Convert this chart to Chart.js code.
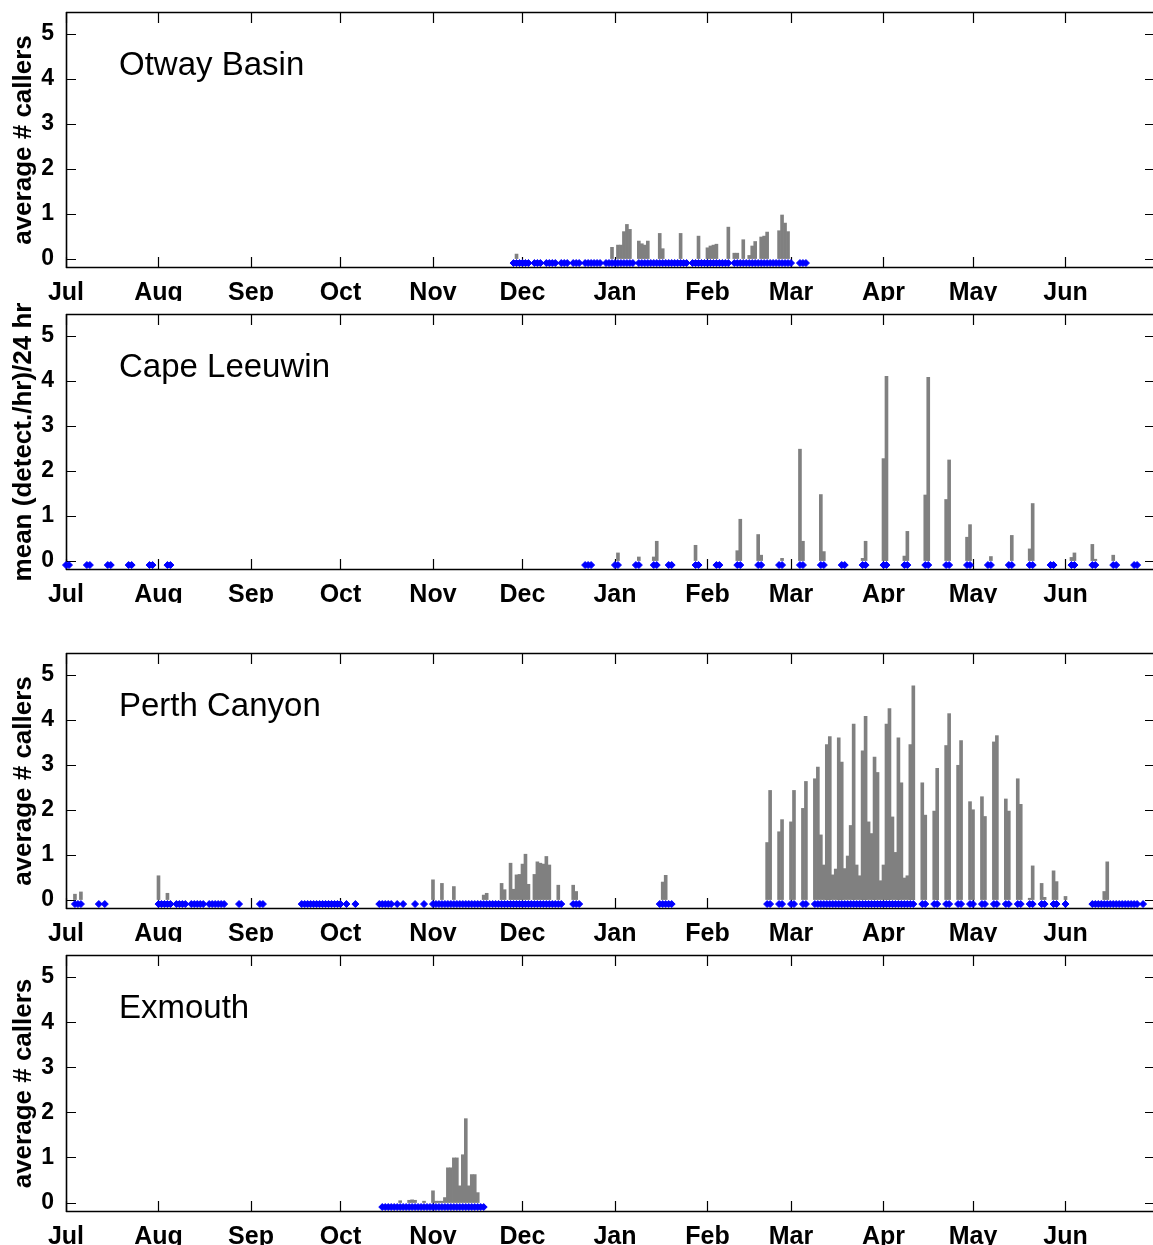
<!DOCTYPE html>
<html>
<head>
<meta charset="utf-8">
<title>Chorus - 4 sites</title>
<script src="https://cdn.jsdelivr.net/npm/chart.js@4/dist/chart.umd.min.js"></script>
<style>
    html, body { margin: 0; padding: 0; overflow: hidden; background: #fff; }
    #figure { position: relative; width: 1153px; height: 1245px; overflow: hidden; }
    #figure canvas { position: absolute; left: 0; }
</style>
</head>
<body>
<div id="figure">
    <canvas id="panneau-otway" width="1160" height="301"></canvas>
    <canvas id="panneau-leeuwin" width="1160" height="301"></canvas>
    <canvas id="panneau-perth" width="1160" height="301"></canvas>
    <canvas id="panneau-exmouth" width="1160" height="302"></canvas>
</div>
<script>
// Axe du temps : jours comptés depuis le 1er juillet
const moisJours = [0, 31, 62, 92, 123, 153, 184, 215, 243, 274, 304, 335];
const moisNoms = ['Jul', 'Aug', 'Sep', 'Oct', 'Nov', 'Dec', 'Jan', 'Feb', 'Mar', 'Apr', 'May', 'Jun'];
const graduationsY = [0, 1, 2, 3, 4, 5];
const niveauEffort = -0.1; // jours avec enregistrement (losanges bleus)

// Otway Basin
const otwayJours = [151, 183, 185, 186, 187, 188, 189, 192, 193, 194, 195, 199, 200, 206, 212,
    215, 216, 217, 218, 222, 224, 225, 227, 229, 230, 231, 233, 234, 235, 239, 240, 241, 242];
const otwayValeurs = [0.10, 0.25, 0.30, 0.30, 0.60, 0.76, 0.65, 0.39, 0.33, 0.30, 0.39, 0.56, 0.22, 0.56, 0.50,
    0.24, 0.28, 0.30, 0.32, 0.70, 0.12, 0.12, 0.42, 0.07, 0.28, 0.38, 0.48, 0.50, 0.59, 0.62, 0.97, 0.79, 0.60];
const otwayEffort = [[150, 155], [157, 159], [161, 164], [166, 168], [170, 172], [174, 179], [181, 190],
    [192, 208], [210, 222], [224, 243], [246, 248]];

// Cape Leeuwin
const leeuwinJours = [185, 192, 197, 198, 211, 225, 226, 232, 233, 240, 246, 247, 253, 254, 267, 268, 274, 275,
    281, 282, 288, 289, 295, 296, 302, 303, 310, 317, 323, 324, 337, 338, 344, 345, 351];
const leeuwinValeurs = [0.17, 0.08, 0.08, 0.43, 0.34, 0.22, 0.92, 0.58, 0.12, 0.05, 2.48, 0.43, 1.47, 0.20, 0.05, 0.43, 2.27, 4.10,
    0.10, 0.65, 1.46, 4.08, 1.36, 2.24, 0.52, 0.80, 0.09, 0.56, 0.26, 1.27, 0.07, 0.17, 0.36, 0.03, 0.12];
const leeuwinEffort = [[0, 1], [7, 8], [14, 15], [21, 22], [28, 29], [34, 35], [174, 176], [184, 185], [191, 192],
    [197, 198], [202, 203], [211, 212], [218, 219], [225, 226], [232, 233], [239, 240], [246, 247], [253, 254],
    [260, 261], [267, 268], [274, 275], [281, 282], [288, 289], [295, 296], [302, 303], [309, 310], [316, 317],
    [323, 324], [330, 331], [337, 338], [344, 345], [351, 352], [358, 359]];

// Perth Canyon
const perthJours = [3, 5, 31, 34, 123, 126, 130, 140, 141, 146, 147, 149, 150, 151, 152, 153, 154, 155,
    157, 158, 159, 160, 161, 162, 165, 170, 171, 200, 201, 235, 236, 239, 240, 243, 244, 247, 248,
    251, 252, 253, 254, 255, 256, 257, 258, 259, 260, 261, 262, 263, 264, 265, 266, 267, 268, 269, 270,
    271, 272, 273, 274, 275, 276, 277, 278, 279, 280, 281, 282, 283, 284, 287, 288, 291, 292, 295, 296,
    299, 300, 303, 304, 307, 308, 311, 312, 315, 316, 319, 320, 323, 324, 327, 328, 331, 332, 335, 348, 349];
const perthValeurs = [0.12, 0.17, 0.53, 0.14, 0.44, 0.36, 0.29, 0.10, 0.14, 0.36, 0.22, 0.81, 0.23, 0.55, 0.56, 0.79, 1.01, 0.34,
    0.56, 0.84, 0.81, 0.79, 0.96, 0.77, 0.32, 0.32, 0.18, 0.39, 0.54, 1.27, 2.43, 1.51, 1.78, 1.73, 2.43, 2.03, 2.63,
    2.69, 2.95, 1.44, 0.77, 3.45, 3.63, 0.55, 0.68, 3.60, 3.06, 0.69, 0.97, 1.65, 3.91, 0.77, 0.53, 3.31, 4.08, 1.73, 1.47,
    3.17, 2.83, 0.42, 0.77, 3.91, 4.25, 1.84, 1.05, 3.60, 2.60, 0.48, 0.53, 3.45, 4.76, 2.60, 1.88, 1.97, 2.92, 3.43, 4.14,
    2.99, 3.54, 2.18, 2.00, 2.29, 1.85, 3.51, 3.65, 2.24, 1.97, 2.69, 2.12, 0.03, 0.75, 0.36, 0.05, 0.64, 0.40, 0.07, 0.18, 0.84];
const perthEffort = [[3, 5], [11, 11], [13, 13], [31, 35], [37, 40], [42, 46], [48, 53], [58, 58], [65, 66],
    [79, 92], [94, 94], [97, 97], [105, 109], [111, 111], [113, 113], [117, 117], [120, 120], [123, 166],
    [170, 172], [199, 203], [235, 236], [239, 240], [243, 244], [247, 248], [251, 284], [287, 288], [291, 292],
    [295, 296], [299, 300], [303, 304], [307, 308], [311, 312], [315, 316], [319, 320], [323, 324], [327, 328],
    [331, 332], [335, 335], [344, 359], [361, 361]];

// Exmouth
const exmouthJours = [112, 115, 116, 117, 120, 123, 124, 125, 126, 127, 128, 129, 130, 131, 132, 133, 134, 135, 136, 137, 138];
const exmouthValeurs = [0.04, 0.05, 0.06, 0.05, 0.03, 0.26, 0.03, 0.03, 0.03, 0.11, 0.77, 0.77, 0.99, 0.99, 0.37, 1.06, 1.86, 0.37, 0.62, 0.62, 0.22];
const exmouthEffort = [[106, 140]];

Chart.defaults.font.family = '"Liberation Sans", Arial, sans-serif';
Chart.defaults.color = '#000';

// Cadre, graduations internes et nom du site
const cadrePlugin = {
    id: 'cadre',
    beforeDatasetsDraw(chart) {
        const { ctx, chartArea: a, scales: { x, y } } = chart;
        ctx.save();
        ctx.strokeStyle = '#000';
        ctx.lineWidth = 1.6;
        ctx.beginPath();
        ctx.moveTo(a.left, a.top + 0.5);
        ctx.lineTo(a.right, a.top + 0.5);
        ctx.moveTo(a.left + 0.5, a.top);
        ctx.lineTo(a.left + 0.5, a.bottom);
        ctx.moveTo(a.left, a.bottom - 0.5);
        ctx.lineTo(a.right, a.bottom - 0.5);
        ctx.stroke();
        ctx.lineWidth = 1.2;
        ctx.beginPath();
        x.ticks.forEach(t => {
            const px = Math.round(x.getPixelForValue(t.value)) + 0.5;
            ctx.moveTo(px, a.top);
            ctx.lineTo(px, a.top + 11);
            ctx.moveTo(px, a.bottom);
            ctx.lineTo(px, a.bottom - 11);
        });
        y.ticks.forEach(t => {
            const py = Math.round(y.getPixelForValue(t.value)) + 0.5;
            ctx.moveTo(a.left, py);
            ctx.lineTo(a.left + 10, py);
            ctx.moveTo(a.right, py);
            ctx.lineTo(a.right - 10, py);
        });
        ctx.stroke();
        ctx.restore();
    },
    afterDraw(chart, args, opts) {
        const { ctx, chartArea: a } = chart;
        ctx.save();
        ctx.fillStyle = '#000';
        ctx.font = 'normal 33px "Liberation Sans", Arial, sans-serif';
        ctx.textBaseline = 'alphabetic';
        ctx.fillText(opts.titre, a.left + 53, a.top + 63);
        ctx.restore();
    }
};

const panneaux = [
    { id: 'otway', haut: 0, titre: 'Otway Basin', titreY: 'average # callers',
      jours: otwayJours, valeurs: otwayValeurs, effort: otwayEffort },
    { id: 'leeuwin', haut: 302, titre: 'Cape Leeuwin', titreY: 'mean (detect./hr)/24 hr',
      jours: leeuwinJours, valeurs: leeuwinValeurs, effort: leeuwinEffort },
    { id: 'perth', haut: 641, titre: 'Perth Canyon', titreY: 'average # callers',
      jours: perthJours, valeurs: perthValeurs, effort: perthEffort },
    { id: 'exmouth', haut: 943, titre: 'Exmouth', titreY: 'average # callers',
      jours: exmouthJours, valeurs: exmouthValeurs, effort: exmouthEffort }
];

/**
 * Construit un panneau (barres grises + losanges d'effort).
 */
function creerPanneau(p) {
    const canvas = document.getElementById('panneau-' + p.id);
    canvas.style.top = p.haut + 'px';

    const barres = p.jours.map((j, i) => ({ x: j, y: p.valeurs[i] }));
    const marqueurs = [];
    p.effort.forEach(([debut, fin]) => {
        for (let j = debut; j <= fin; j++) {
            marqueurs.push({ x: j, y: niveauEffort });
        }
    });

    return new Chart(canvas, {
        type: 'bar',
        data: {
            datasets: [
                {
                    type: 'line',
                    data: marqueurs,
                    showLine: false,
                    pointStyle: 'rectRot',
                    pointRadius: 3.5,
                    pointBorderWidth: 1,
                    pointBackgroundColor: '#0000ff',
                    pointBorderColor: '#0000ff',
                    clip: false,
                    order: 0
                },
                {
                    type: 'bar',
                    data: barres,
                    backgroundColor: '#808080',
                    borderWidth: 0,
                    barPercentage: 1,
                    categoryPercentage: 1,
                    order: 1
                }
            ]
        },
        options: {
            responsive: false,
            animation: false,
            devicePixelRatio: 1,
            layout: { padding: { top: 12, right: 1, bottom: 0, left: 0 } },
            plugins: {
                legend: { display: false },
                tooltip: { enabled: false },
                cadre: { titre: p.titre }
            },
            scales: {
                x: {
                    type: 'linear',
                    min: 0,
                    max: 365,
                    offset: false,
                    grid: { display: false, drawTicks: false, offset: false },
                    border: { display: false },
                    afterBuildTicks: s => { s.ticks = moisJours.map(v => ({ value: v })); },
                    afterFit: s => {
                        s.height = 33;
                        s.paddingLeft = 0;
                        s.paddingRight = 0;
                    },
                    ticks: {
                        autoSkip: false,
                        maxRotation: 0,
                        padding: 10,
                        font: { size: 25, weight: 'bold' },
                        callback: (v, i) => moisNoms[i]
                    }
                },
                y: {
                    type: 'linear',
                    min: -0.21,
                    max: 5.49,
                    grid: { display: false, drawTicks: false },
                    border: { display: false },
                    afterBuildTicks: s => { s.ticks = graduationsY.map(v => ({ value: v })); },
                    afterFit: s => {
                        s.width = 66;
                        s.paddingTop = 0;
                        s.paddingBottom = 0;
                    },
                    ticks: {
                        padding: 12,
                        font: { size: 23, weight: 'bold' },
                        callback: v => String(v)
                    },
                    title: {
                        display: true,
                        text: p.titreY,
                        font: { size: 26, weight: 'bold' },
                        padding: { top: 8, bottom: 0 }
                    }
                }
            }
        },
        plugins: [cadrePlugin]
    });
}

panneaux.forEach(creerPanneau);
</script>
</body>
</html>
